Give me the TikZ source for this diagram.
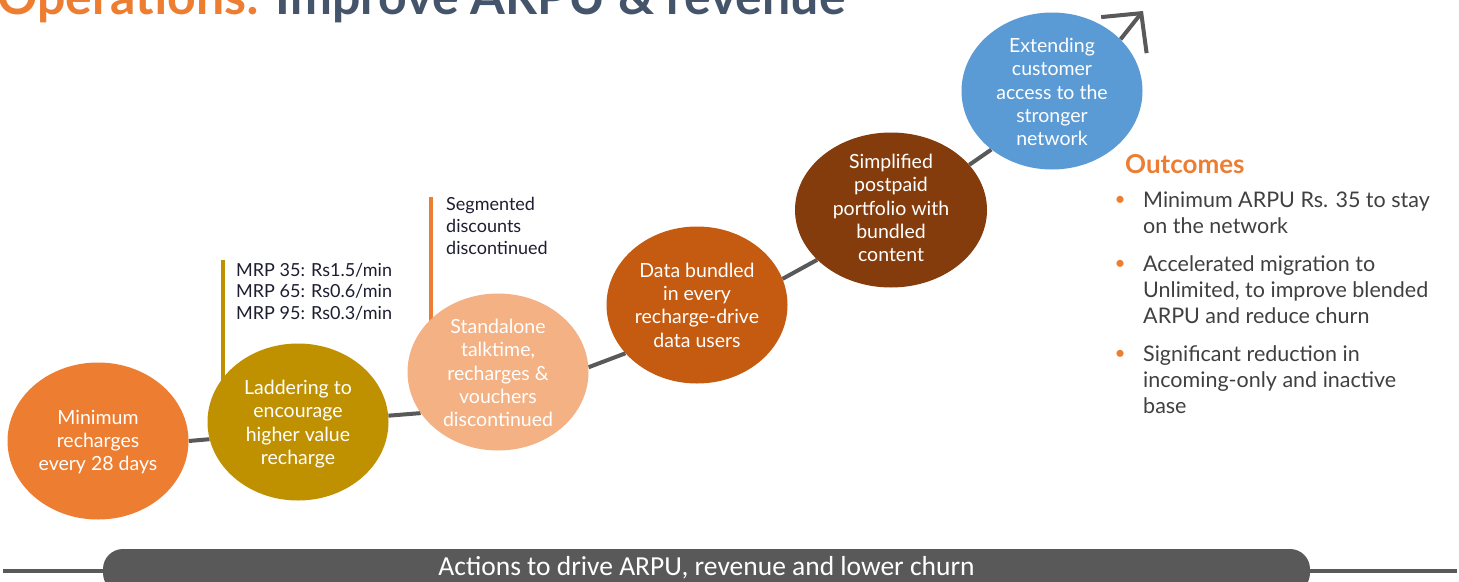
\documentclass[tikz,border=0pt]{standalone}
\usepackage{fontspec}
\setmainfont{Lato}
\newfontfamily\barfont{Carlito}
\usetikzlibrary{shapes.geometric,arrows.meta,backgrounds}
\definecolor{cOrange}{HTML}{ED7D31}
\definecolor{cGold}{HTML}{BF9000}
\definecolor{cPeach}{HTML}{F4B183}
\definecolor{cRust}{HTML}{C55A11}
\definecolor{cBrown}{HTML}{843C0C}
\definecolor{cBlue}{HTML}{5B9BD5}
\definecolor{cGrey}{HTML}{595959}
\definecolor{cSlate}{HTML}{44546A}
\definecolor{cText}{HTML}{404040}
\definecolor{cInk}{HTML}{1E1E32}

\tikzset{
  stage/.style={ellipse, draw=none, fill=#1, inner sep=0pt,
    minimum width=181pt, minimum height=157pt},
  stagetext/.style={text=white, font=\fontsize{19.5}{23.3}\selectfont,
    align=center, inner sep=0pt},
  link/.style={draw=cGrey, line width=4pt},
  callout/.style={line width=4pt},
  note/.style={font=\fontsize{18}{21.7}\selectfont, text=cInk,
    align=left, inner sep=0pt, anchor=west},
  outcome/.style={font=\fontsize{21.5}{26}\selectfont, text=cText,
    align=left, inner sep=0pt, anchor=west},
  dot/.style={font=\fontsize{19}{26}\selectfont, text=cOrange, inner sep=0pt},
}

\begin{document}
\begin{tikzpicture}[x=1pt,y=-1pt]
\useasboundingbox (0,0) rectangle (1459,581);
\clip (0,0) rectangle (1459,581);

% heading, cut by the top edge
\node[anchor=base west, inner sep=0pt, font=\fontsize{50}{54}\selectfont\bfseries,
  text=cSlate] (title) at (-3,14) {\textcolor{cOrange}{Operations:} Improve ARPU \& revenue};

% the six stages
\node[stage=cOrange] (s1) at (98,441) {};
\node[stage=cGold]   (s2) at (298,422) {};
\node[stage=cPeach]  (s3) at (498,372) {};
\node[stage=cRust]   (s4) at (697,305) {};
\node[stage=cBrown, minimum width=192pt, minimum height=155pt] (s5) at (891,210) {};
\node[stage=cBlue]   (s6) at (1052,91) {};

\node[stagetext] (t1) at (98,442) {Minimum\\recharges\\every 28 days};
\node[stagetext] (t2) at (298,424) {Laddering to\\encourage\\higher value\\recharge};
\node[stagetext] (t3) at (498,373) {Standalone\\talktime,\\recharges \&\\vouchers\\discontinued};
\node[stagetext] (t4) at (697,305) {Data bundled\\in every\\recharge-drive\\data users};
\node[stagetext] (t5) at (891,208) {Simplified\\postpaid\\portfolio with\\bundled\\content};
\node[stagetext] (t6) at (1052,92) {Extending\\customer\\access to the\\stronger\\network};

% side notes with their callout bars
\coordinate (gtop) at (222.5,260);
\coordinate (otop) at (431,197);
\node[note] (mrp) at (236,291.5) {MRP 35: Rs1.5/min\\MRP 65: Rs0.6/min\\MRP 95: Rs0.3/min};
\node[note] (seg) at (446,226) {Segmented\\discounts\\discontinued};

% outcomes list
\node[anchor=west, inner sep=0pt, font=\fontsize{26}{28}\selectfont\bfseries,
  text=cOrange] (outhead) at (1125,164) {Outcomes};
\node[dot] (b1) at (1120,201) {•};
\node[dot] (b2) at (1120,265) {•};
\node[dot] (b3) at (1120,355) {•};
\node[outcome] (o1) at (1143,213) {Minimum ARPU Rs. 35 to stay\\on the network};
\node[outcome] (o2) at (1143,290) {Accelerated migration to\\Unlimited, to improve blended\\ARPU and reduce churn};
\node[outcome] (o3) at (1143,380) {Significant reduction in\\incoming-only and inactive\\base};

% bottom banner
\coordinate (lineL) at (3,571);
\coordinate (lineR) at (1457,571);
\node[fill=cGrey, rounded corners=20pt, minimum width=1207pt, minimum height=44pt,
  inner sep=0pt] (actions) at (706.5,571) {};
\node[inner sep=0pt, text=white, font=\barfont\fontsize{27.5}{30}\selectfont]
  (actionstext) at (706.5,568) {Actions to drive ARPU, revenue and lower churn};
\draw[link] (lineL) -- (actions.west);
\draw[link] (actions.east) -- (lineR);

% path joining the stages, kept behind them
\coordinate (tip) at (1143,11);
\begin{scope}[on background layer]
  \fill[white] (0,0) rectangle (1459,581);
  \draw[link] (s1.east) -- (s2.191);
  \draw[link] (s2.4) -- (s3.208);
  \draw[link] (s3.3) -- (s4.214);
  \draw[link] (s4.17) -- (s5.214);
  \draw[link] (s5.30) -- (s6.224);
  \draw[link, -{Straight Barb[length=28pt,width=58pt]}] (s6.37) -- (tip);
  \draw[callout, cGold] (gtop) -- (gtop |- s2.center);
  \draw[callout, cOrange] (otop) -- (otop |- s3.center);
\end{scope}
\end{tikzpicture}
\end{document}
